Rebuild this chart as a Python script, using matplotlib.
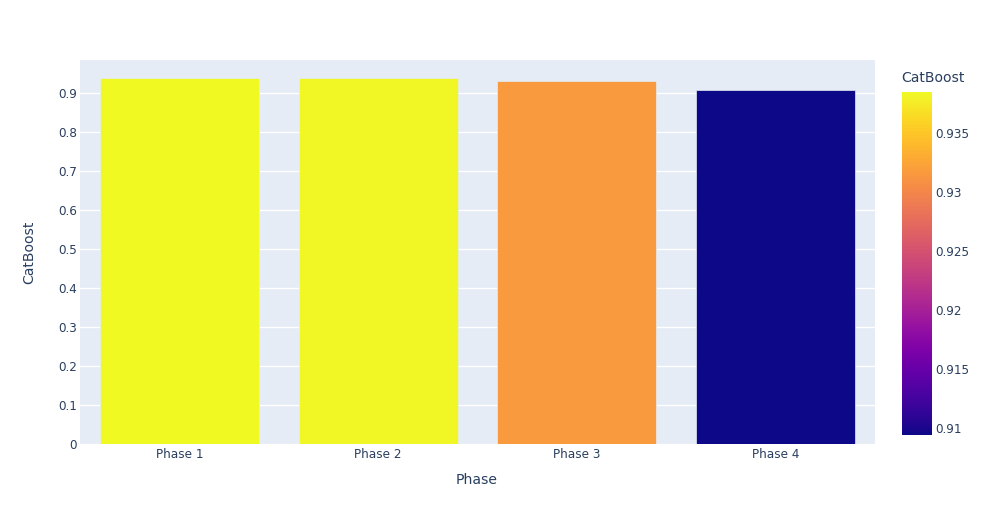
import matplotlib
matplotlib.use("Agg")
import matplotlib.pyplot as plt
from matplotlib import cm, colors
import numpy as np

phases = ["Phase 1", "Phase 2", "Phase 3", "Phase 4"]
catboost = [0.9385, 0.9383, 0.9316, 0.9094]
y_ticks = [0, 0.1, 0.2, 0.3, 0.4, 0.5, 0.6, 0.7, 0.8, 0.9]
cbar_ticks = [0.91, 0.915, 0.92, 0.925, 0.93, 0.935]

W, H = 988, 525
font_col = "#2a3f5f"
plt.rcParams["font.family"] = ["DejaVu Sans"]

fig = plt.figure(figsize=(W / 100, H / 100), dpi=100, facecolor="white")
ax = fig.add_axes([80 / W, (H - 444) / H, 795 / W, 384 / H])
ax.set_facecolor("#E5ECF6")

norm = colors.Normalize(vmin=min(catboost), vmax=max(catboost))
cmap = plt.get_cmap("plasma")
x = np.arange(len(phases))
ax.bar(x, catboost, width=0.8, color=cmap(norm(catboost)),
       edgecolor="#E5ECF6", linewidth=0.5, zorder=3)

ax.set_xlim(-0.5, len(phases) - 0.5)
ax.set_ylim(0, max(catboost) * 1.05)
ax.set_xticks(x)
ax.set_xticklabels(phases)
ax.set_yticks(y_ticks)
ax.set_yticklabels(["0"] + [f"{v:.1f}" for v in y_ticks[1:]])
ax.grid(axis="y", color="white", linewidth=1, zorder=0)
ax.set_axisbelow(True)
for s in ax.spines.values():
    s.set_visible(False)
ax.tick_params(length=0, labelsize=8.64, labelcolor=font_col)
ax.tick_params(axis="y", pad=2)
ax.tick_params(axis="x", pad=3)

# axis titles placed like plotly does
fig.text(477 / W, 1 - 480 / H, "Phase", fontsize=10.08, color=font_col,
         ha="center", va="center")
fig.text(29 / W, 1 - 252 / H, "CatBoost", fontsize=10.08, color=font_col,
         ha="center", va="center", rotation=90)

cax = fig.add_axes([902 / W, (H - 435) / H, 30 / W, 343 / H])
sm = cm.ScalarMappable(norm=norm, cmap=cmap)
cb = fig.colorbar(sm, cax=cax)
cb.outline.set_visible(False)
cb.set_ticks(cbar_ticks)
cb.set_ticklabels(["0.91", "0.915", "0.92", "0.925", "0.93", "0.935"])
cax.tick_params(length=0, labelsize=8.64, labelcolor=font_col, pad=2)
fig.text(901 / W, 1 - 78 / H, "CatBoost", fontsize=10.08, color=font_col,
         ha="left", va="center")

fig.savefig("out.png", dpi=100, facecolor="white")
